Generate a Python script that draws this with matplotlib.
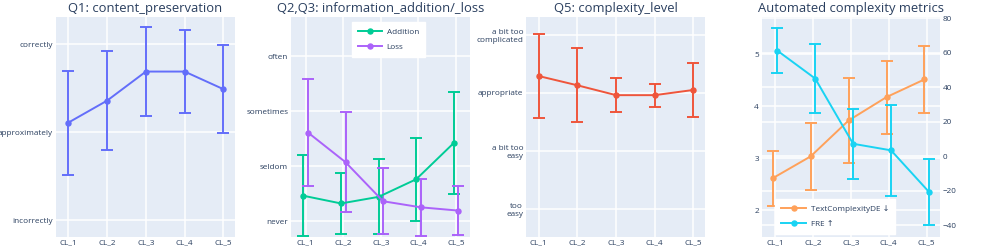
import numpy as np
import matplotlib.pyplot as plt

# ~~~~~~~~~~~~~~~~~~~~ data ~~~~~~~~~~~~~~~~~~~~
cls = ['CL_1', 'CL_2', 'CL_3', 'CL_4', 'CL_5']

q1_mean = [2.11, 2.36, 2.69, 2.69, 2.49]
q1_err = [0.59, 0.56, 0.51, 0.47, 0.50]
q1_ticks = ['incorrectly', 'approximately', 'correctly']

add_mean = [1.46, 1.32, 1.44, 1.76, 2.42]
add_err = [0.74, 0.55, 0.68, 0.75, 0.92]
loss_mean = [2.61, 2.07, 1.36, 1.25, 1.19]
loss_err = [0.98, 0.91, 0.60, 0.52, 0.45]
q23_ticks = ['never', 'seldom', 'sometimes', 'often']

q5_mean = [3.29, 3.13, 2.96, 2.96, 3.05]
q5_err = [0.72, 0.64, 0.29, 0.20, 0.46]
q5_ticks = ['too\neasy', 'a bit too\neasy', 'appropriate', 'a bit too\ncomplicated']

tcde_mean = [2.62, 3.04, 3.73, 4.18, 4.52]
tcde_err = [0.53, 0.65, 0.81, 0.70, 0.64]
fre_mean = [61.3, 45.1, 7.3, 3.5, -20.6]
fre_err = [12.9, 20.2, 20.3, 26.2, 19.1]

# ~~~~~~~~~~~~~~~~~~~~ style ~~~~~~~~~~~~~~~~~~~~
BG = '#E5ECF6'
TXT = '#2a3f5f'
plt.rcParams['font.family'] = ['Open Sans', 'DejaVu Sans']
plt.rcParams['text.color'] = TXT
TICK_FS = 5.9
TITLE_FS = 9.4
LEG_FS = 5.9
LW = 1.4
MS = 3.6
CAP = 4.5

W, H = 997, 249
fig = plt.figure(figsize=(W / 100, H / 100), dpi=100)

def make_ax(x0, x1, y0=17, y1=237):
    ax = fig.add_axes([x0 / W, 1 - y1 / H, (x1 - x0) / W, (y1 - y0) / H])
    ax.set_facecolor(BG)
    for s in ax.spines.values():
        s.set_visible(False)
    ax.grid(True, color='white', lw=1.1)
    ax.set_axisbelow(True)
    ax.tick_params(length=0, labelsize=TICK_FS, labelcolor=TXT, pad=2)
    ax.set_xticks(range(len(cls)))
    ax.set_xticklabels(cls)
    return ax

def title(ax, t):
    ax.text(0.5, (237 - 11.5) / 220, t, transform=ax.transAxes, ha='center',
            va='baseline', fontsize=TITLE_FS, color=TXT)

def ebar(ax, x, y, e, c, label=None, z=3):
    ax.errorbar(x, y, yerr=e, color=c, lw=LW, marker='o', ms=MS, capsize=CAP,
                capthick=LW, elinewidth=LW, zorder=z)
    h, = ax.plot([], [], color=c, lw=LW, marker='o', ms=MS, label=label)
    return h

x = np.arange(len(cls))

# ~~~~~~~~~~~~~~~~~~~~ Q1 ~~~~~~~~~~~~~~~~~~~~
ax1 = make_ax(56, 235)
ebar(ax1, x, q1_mean, q1_err, '#636EFA')
ax1.set_yticks([1, 2, 3])
ax1.set_yticklabels(q1_ticks)
ax1.set_ylim(0.81, 3.31)
ax1.set_xlim(-0.32, 4.30)
title(ax1, 'Q1: content_preservation')

# ~~~~~~~~~~~~~~~~~~~~ Q2,Q3 ~~~~~~~~~~~~~~~~~~~~
ax2 = make_ax(291, 470)
h1 = ebar(ax2, x - 0.06, add_mean, add_err, '#00CC96', 'Addition')
h2 = ebar(ax2, x + 0.06, loss_mean, loss_err, '#AB63FA', 'Loss')
ax2.set_yticks([1, 2, 3, 4])
ax2.set_yticklabels(q23_ticks)
ax2.set_ylim(0.71, 4.71)
ax2.set_xlim(-0.39, 4.37)
title(ax2, 'Q2,Q3: information_addition/_loss')
leg = ax2.legend(handles=[h1, h2], loc='upper left', bbox_to_anchor=(0.339, 0.977),
                 fontsize=LEG_FS, frameon=True, fancybox=False, borderaxespad=0,
                 borderpad=0.75, handlelength=2.9, handletextpad=0.6,
                 labelspacing=0.85, labelcolor=TXT)
leg.get_frame().set_facecolor('white')
leg.get_frame().set_edgecolor('white')
leg.get_frame().set_alpha(1)

# ~~~~~~~~~~~~~~~~~~~~ Q5 ~~~~~~~~~~~~~~~~~~~~
ax3 = make_ax(526, 705)
ebar(ax3, x, q5_mean, q5_err, '#EF553B')
ax3.set_yticks([1, 2, 3, 4])
ax3.set_yticklabels(q5_ticks)
ax3.set_ylim(0.51, 4.31)
ax3.set_xlim(-0.33, 4.30)
title(ax3, 'Q5: complexity_level')

# ~~~~~~~~~~~~~~~~~~~~ automated metrics ~~~~~~~~~~~~~~~~~~~~
ax4 = make_ax(761.7, 940)
ax4.set_yticks([2, 3, 4, 5])
ax4.set_ylim(1.49, 5.72)
ax4.set_xlim(-0.35, 4.35)
title(ax4, 'Automated complexity metrics')

# right axis gridlines + ticks
ax4r = ax4.twinx()
ax4r.patch.set_visible(False)
for s in ax4r.spines.values():
    s.set_visible(False)
ax4r.grid(True, color='white', lw=1.1)
ax4r.tick_params(length=0, labelsize=TICK_FS, labelcolor=TXT, pad=2)
ax4r.set_yticks([-40, -20, 0, 20, 40, 60, 80])
ax4r.set_yticklabels(['\u221240', '\u221220', '0', '20', '40', '60', '80'])
ax4r.set_ylim(-46.7, 80.75)

# orange trace on its own layer (same scale as left axis)
ax4o = ax4.twinx()
ax4o.patch.set_visible(False)
ax4o.axis('off')
ax4o.set_ylim(1.49, 5.72)
h3 = ebar(ax4o, x - 0.06, tcde_mean, tcde_err, '#FFA15A', 'TextComplexityDE \u2193')

# cyan trace on top (same scale as right axis)
ax4f = ax4.twinx()
ax4f.patch.set_visible(False)
ax4f.axis('off')
ax4f.set_ylim(-46.7, 80.75)
h4 = ebar(ax4f, x + 0.06, fre_mean, fre_err, '#19D3F3', 'FRE \u2191')
ax4f.set_xlim(-0.35, 4.35)

leg4 = ax4f.legend(handles=[h3, h4], loc='lower left', bbox_to_anchor=(0.075, 0.015),
                   fontsize=LEG_FS, frameon=True, fancybox=False, borderaxespad=0,
                   borderpad=0.75, handlelength=3.0, handletextpad=0.6,
                   labelspacing=0.85, labelcolor=TXT)
leg4.get_frame().set_facecolor('white')
leg4.get_frame().set_edgecolor('white')
leg4.get_frame().set_alpha(1)

fig.savefig('out.png', dpi=100)
